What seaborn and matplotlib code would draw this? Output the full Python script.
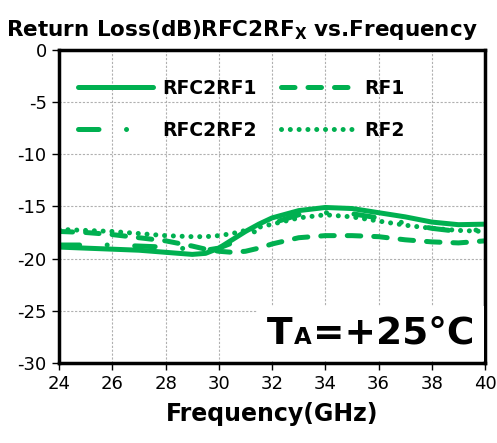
import numpy as np
import pandas as pd
import seaborn as sns
import matplotlib
matplotlib.use("Agg")
import matplotlib.pyplot as plt
from matplotlib.offsetbox import TextArea, HPacker, AnchoredOffsetbox

# values
freq = [24, 25, 26, 27, 28, 29, 29.5, 30, 30.5, 31, 31.5, 32, 33, 34, 35, 36, 37, 38, 39, 40]
rfc2rf1 = [-18.9, -19.0, -19.1, -19.2, -19.4, -19.6, -19.5, -19.0, -18.2, -17.4, -16.7, -16.1,
           -15.4, -15.1, -15.2, -15.6, -16.0, -16.5, -16.75, -16.7]
rfc2rf2 = [-18.7, -18.7, -18.7, -18.8, -18.9, -19.1, -19.2, -19.0, -18.5, -17.9, -17.2, -16.6,
           -15.8, -15.6, -15.7, -16.1, -16.6, -17.1, -17.4, -17.2]
rf1 = [-17.4, -17.5, -17.7, -18.0, -18.3, -18.8, -19.1, -19.3, -19.4, -19.3, -19.0, -18.6,
       -18.0, -17.8, -17.8, -17.9, -18.2, -18.4, -18.5, -18.3]
rf2 = [-17.2, -17.3, -17.4, -17.6, -17.8, -17.9, -17.9, -17.8, -17.6, -17.3, -17.0, -16.7,
       -16.1, -15.8, -16.0, -16.4, -16.8, -17.1, -17.3, -17.4]

xticks = np.arange(24, 41, 2)
yticks = np.arange(-30, 1, 5)

green = '#00B050'

sns.set_style("ticks")
plt.rcParams['font.family'] = ['DejaVu Sans']
plt.rcParams['axes.unicode_minus'] = False
plt.rcParams['text.color'] = 'black'
plt.rcParams['axes.labelcolor'] = 'black'
plt.rcParams['xtick.color'] = 'black'
plt.rcParams['ytick.color'] = 'black'

fig = plt.figure(figsize=(4.97, 4.43), dpi=100)
ax = fig.add_axes([0.119, 0.181, 0.857, 0.706])

df = pd.DataFrame({'freq': freq, 'RFC2RF1': rfc2rf1, 'RFC2RF2': rfc2rf2,
                   'RF1': rf1, 'RF2': rf2})

# order so that the 2-column legend reads row-wise like the reference
styles = {
    'RFC2RF1': '-',
    'RFC2RF2': (0, (4.1, 5.5, 0.01, 5.5)),
    'RF1': (0, (2.7, 2.6)),
    'RF2': (0, (0.01, 1.75)),
}
for name, ls in styles.items():
    sns.lineplot(x='freq', y=name, data=df, ax=ax, color=green, linewidth=3.6,
                 linestyle=ls, dash_capstyle='round', solid_capstyle='round',
                 label=name)

ax.set_xlim(24, 40)
ax.set_ylim(-30, 0)
ax.set_xticks(xticks)
ax.set_yticks(yticks)
ax.tick_params(axis='both', labelsize=13, length=5, width=1, direction='out', pad=4,
               colors='black')
ax.grid(True, color='#b0b0b0', linestyle=(0, (2, 1.5)), linewidth=0.8)
for s in ax.spines.values():
    s.set_visible(True)
    s.set_linewidth(2.5)
    s.set_color('black')

ax.set_xlabel('Frequency(GHz)', fontsize=17, fontweight='bold', labelpad=6)
ax.set_ylabel('')
ax.set_title(r'Return Loss(dB)RFC2RF$_\mathbf{X}$ vs.Frequency', fontsize=15.5,
             fontweight='bold', pad=10, x=0.43)

leg = ax.legend(ncol=2, loc='upper left', bbox_to_anchor=(0.019, 0.945), frameon=False,
                handlelength=4.0, handletextpad=0.45, columnspacing=1.3,
                labelspacing=1.25, borderaxespad=0, borderpad=0.6,
                prop={'weight': 'bold', 'size': 13.5})

# temperature label with small "A"
big = dict(fontsize=27, fontweight='bold', color='black')
small = dict(fontsize=16.5, fontweight='bold', color='black')
box = HPacker(children=[TextArea('T', textprops=big), TextArea('A', textprops=small),
                        TextArea('=+25°C', textprops=big)],
              align='baseline', pad=0, sep=1)
anch = AnchoredOffsetbox(loc='lower right', child=box, pad=0.7, borderpad=0.1,
                         frameon=True)
anch.patch.set_facecolor('white')
anch.patch.set_edgecolor('none')
anch.zorder = 5
ax.add_artist(anch)

fig.savefig('out.png', dpi=100)
